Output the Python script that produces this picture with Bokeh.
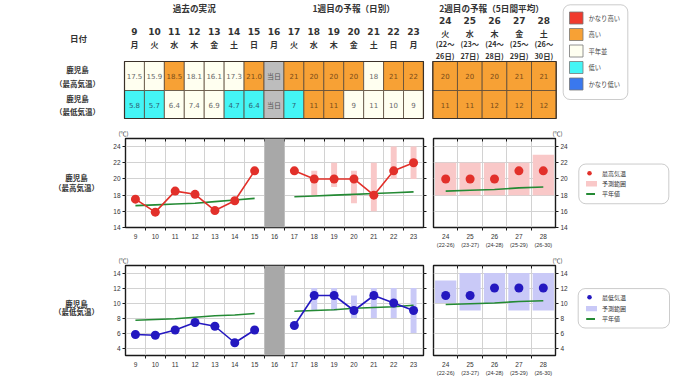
from bokeh.plotting import figure
from bokeh.layouts import column, row
from bokeh.models import Range1d, LinearAxis, FixedTicker, BoxAnnotation, Grid
from bokeh.core.properties import value
from bokeh.embed import file_html
from bokeh.resources import INLINE

JP = "Noto Sans CJK JP"
NUM = "DejaVu Sans"
AX = "Liberation Sans"

# ---------------- data ----------------
past_days = [9, 10, 11, 12, 13, 14, 15]
today = 16
fc_days = [17, 18, 19, 20, 21, 22, 23]
week1_weekdays = ["月", "火", "水", "木", "金", "土", "日", "月", "火", "水", "木", "金", "土", "日", "月"]
week2_days = [24, 25, 26, 27, 28]
week2_weekdays = ["火", "水", "木", "金", "土"]
week2_from = [22, 23, 24, 25, 26]
week2_to = [26, 27, 28, 29, 30]

max_obs = [17.5, 15.9, 18.5, 18.1, 16.1, 17.3, 21.0]
max_fc = [21, 20, 20, 20, 18, 21, 22]
max_fc_low = [None, 18, 19, 17, 16, 20, 20]
max_fc_high = [None, 21, 22, 21, 22, 24, 24]
max_normal_past = [16.7, 16.8, 16.9, 17.0, 17.2, 17.4, 17.6]
max_normal_fc = [17.8, 17.9, 18.0, 18.1, 18.2, 18.3, 18.4]
max_w2 = [20, 20, 20, 21, 21]
max_w2_low = [18, 18, 18, 18, 18]
max_w2_high = [22, 22, 22, 22, 23]
max_w2_normal = [18.5, 18.6, 18.7, 18.9, 19.0]

min_obs = [5.8, 5.7, 6.4, 7.4, 6.9, 4.7, 6.4]
min_fc = [7, 11, 11, 9, 11, 10, 9]
min_fc_low = [None, 9, 9, 8, 8, 8, 6]
min_fc_high = [None, 12, 12, 11, 12, 12, 12]
min_normal_past = [7.7, 7.8, 7.9, 8.1, 8.3, 8.4, 8.6]
min_normal_fc = [8.9, 9.0, 9.1, 9.3, 9.4, 9.5, 9.7]
min_w2 = [11, 11, 12, 12, 12]
min_w2_low = [10, 9, 10, 9, 9]
min_w2_high = [13, 14, 14, 14, 14]
min_w2_normal = [9.8, 9.9, 10.0, 10.2, 10.3]

# class of each table cell (vh かなり高い, h 高い, n 平年並, l 低い, vl かなり低い, t 当日)
max_class_w1 = ["n", "n", "h", "n", "n", "n", "h", "t", "h", "h", "h", "h", "n", "h", "h"]
min_class_w1 = ["l", "l", "n", "n", "n", "l", "l", "t", "l", "h", "h", "n", "n", "n", "n"]
max_class_w2 = ["h", "h", "h", "h", "h"]
min_class_w2 = ["h", "h", "h", "h", "h"]

class_keys = ["vh", "h", "n", "l", "vl"]
class_labels = ["かなり高い", "高い", "平年並", "低い", "かなり低い"]
today_label = "当日"
date_header = "日付"
section_titles = ["過去の実況", "1週目の予報（日別）", "2週目の予報（5日間平均）"]
row_names = [("鹿児島", "（最高気温）"), ("鹿児島", "（最低気温）")]
legend_max = ["最高気温", "予測範囲", "平年値"]
legend_min = ["最低気温", "予測範囲", "平年値"]
unit_label = "(℃)"

# ---------------- styles ----------------
FILL = {"vh": "#F03A2E", "h": "#F7A135", "n": "#FFFFF0", "l": "#44F5F5", "vl": "#3A78EE", "t": "#BDBDBD"}
INK = {"vh": "#5A1A10", "h": "#7A4C18", "n": "#6A6A6A", "l": "#2E6070", "vl": "#10204A", "t": "#555555"}
RED = "#E2302A"
BLUE = "#2418C0"
PINK = "#F9C8C8"
LAV = "#C9C9F7"
GREEN = "#248A34"
GRID = "#D2D2D2"
DARK = "#333333"

# ---------------- table ----------------
tab = figure(width=680, height=122, x_range=Range1d(0, 680), y_range=Range1d(122, 0), min_border=0,
             x_axis_location=None, y_axis_location=None, output_backend="svg", toolbar_location=None)
tab.outline_line_color = None
tab.grid.visible = False

W1_L, W1_W = 124.0, 19.93
W2_L, W2_W = 432.3, 24.68
ROWS = [(61.0, 90.0), (90.0, 118.0)]

w1_days = past_days + [today] + fc_days
n1, n2 = len(w1_days), len(week2_days)
w1_cx = [W1_L + (i + 0.5) * W1_W for i in range(n1)]
w2_cx = [W2_L + (i + 0.5) * W2_W for i in range(n2)]


def fmt_w1(obs, fc):
    return [f"{v:.1f}" for v in obs] + [today_label] + [f"{v:g}" for v in fc]


rows_w1 = [(max_class_w1, fmt_w1(max_obs, max_fc)), (min_class_w1, fmt_w1(min_obs, min_fc))]
rows_w2 = [(max_class_w2, [f"{v:g}" for v in max_w2]), (min_class_w2, [f"{v:g}" for v in min_w2])]


def txt(fig, x, y, text, font, size, color=DARK, style="normal", align="center"):
    fig.text(x=x, y=y, text=text, text_font=value(font), text_font_size=value(size),
             text_color=color, text_font_style=style, text_align=align, text_baseline="middle")


def draw_cells(L, W, n, rows):
    for (top, bot), (cls, labels) in zip(ROWS, rows):
        tab.quad(left=[L + i * W for i in range(n)], right=[L + (i + 1) * W for i in range(n)],
                 top=top, bottom=bot, fill_color=[FILL[c] for c in cls],
                 line_color="#5B4A3A", line_width=0.8)
        cx = [L + (i + 0.5) * W for i in range(n)]
        num = [i for i, c in enumerate(cls) if c != "t"]
        tday = [i for i, c in enumerate(cls) if c == "t"]
        yc = (top + bot) / 2
        txt(tab, [cx[i] for i in num], [yc] * len(num), [labels[i] for i in num], NUM, "7px",
            [INK[cls[i]] for i in num])
        if tday:
            txt(tab, [cx[i] for i in tday], [yc] * len(tday), [labels[i] for i in tday], JP, "7px",
                [INK["t"]] * len(tday))
    tab.quad(left=[L], right=[L + n * W], top=[ROWS[0][0]], bottom=[ROWS[1][1]], fill_color=None,
             line_color="#3A3028", line_width=1.2)


draw_cells(W1_L, W1_W, n1, rows_w1)
draw_cells(W2_L, W2_W, n2, rows_w2)

# headers
sec_x = [W1_L + 3.5 * W1_W, W1_L + 11.5 * W1_W, W2_L + 2.5 * W2_W - 3]
txt(tab, sec_x, [7.3] * 3, section_titles, JP, "8.6px", DARK, "bold")
txt(tab, w1_cx, [31] * n1, [str(d) for d in w1_days], NUM, "9px", DARK, "bold")
txt(tab, w1_cx, [44] * n1, week1_weekdays, JP, "8px", DARK, "bold")
txt(tab, w2_cx, [20.3] * n2, [str(d) for d in week2_days], NUM, "9px", DARK, "bold")
txt(tab, w2_cx, [33.3] * n2, week2_weekdays, JP, "8px", DARK, "bold")
txt(tab, w2_cx, [43.5] * n2, [f"({a}～" for a in week2_from], JP, "7.3px", DARK, "bold")
txt(tab, w2_cx, [55] * n2, [f"{b}日)" for b in week2_to], JP, "7.3px", DARK, "bold")
txt(tab, [78], [37.5], [date_header], JP, "8.5px", DARK, "bold")
txt(tab, [77, 77, 77, 77], [69, 82.5, 97.5, 111],
    [row_names[0][0], row_names[0][1], row_names[1][0], row_names[1][1]], JP, "7.5px", DARK, "bold")

# colour legend
tab.add_layout(BoxAnnotation(left=562.7, right=627.3, top=4.3, bottom=99, border_radius=7,
                             fill_color="white", fill_alpha=1, line_color="#555555", line_width=1,
                             level="underlay"))
leg_y = [17.5 + 16.5 * i for i in range(len(class_keys))]
tab.quad(left=569, right=582.5, top=[y - 6 for y in leg_y], bottom=[y + 6 for y in leg_y],
         fill_color=[FILL[k] for k in class_keys], line_color="#777777", line_width=0.8)
txt(tab, [588] * len(class_keys), leg_y, class_labels, JP, "6.3px", "#444444", "normal", "left")


# ---------------- charts ----------------
def frame_style(p, align, offset):
    p.outline_line_color = "#1A1A1A"
    p.outline_line_width = 1.4
    p.grid.visible = False
    p.title.text = unit_label
    p.title.text_font = JP
    p.title.text_font_size = "6px"
    p.title.text_font_style = "normal"
    p.title.text_color = DARK
    p.title.standoff = 2
    p.title.align = align
    p.title.offset = offset


def tick_axis(ticks, inward=False):
    return LinearAxis(ticker=FixedTicker(ticks=ticks), major_tick_in=3 if inward else 0,
                      major_tick_out=0 if inward else 3, minor_tick_in=0, minor_tick_out=0,
                      axis_line_color=None, major_tick_line_color="#1A1A1A",
                      major_label_text_font_size="0px", major_label_text_color=None,
                      major_label_standoff=0)


def label_axis(ticks, size, overrides=None, standoff=2):
    ax = LinearAxis(ticker=FixedTicker(ticks=ticks), major_tick_in=0, major_tick_out=0,
                    minor_tick_in=0, minor_tick_out=0, axis_line_color=None, major_tick_line_color=None,
                    major_label_text_font=AX, major_label_text_font_size=size,
                    major_label_text_color=DARK, major_label_standoff=standoff)
    if overrides:
        ax.major_label_overrides = overrides
    return ax


def y_axis(ticks, labels=True):
    ax = LinearAxis(ticker=FixedTicker(ticks=ticks), major_tick_in=0, major_tick_out=3,
                    minor_tick_in=0, minor_tick_out=0, axis_line_color=None,
                    major_tick_line_color="#1A1A1A",
                    major_label_text_font=AX, major_label_text_font_size="6.5px" if labels else "0px",
                    major_label_text_color=DARK if labels else None, major_label_standoff=2 if labels else 0)
    return ax


def grids(p, xb, yt):
    p.add_layout(Grid(dimension=0, ticker=FixedTicker(ticks=xb), grid_line_color=GRID, grid_line_width=1))
    p.add_layout(Grid(dimension=1, ticker=FixedTicker(ticks=yt), grid_line_color=GRID, grid_line_width=1))


def week1_panel(yr, yticks, obs, fc, lo, hi, n_past, n_fc, line_col, band_col, top_b, frame_h, bot_b):
    p = figure(frame_width=298, frame_height=frame_h,
               x_range=Range1d(w1_days[0] - 0.5, w1_days[-1] + 0.5), y_range=Range1d(*yr),
               min_border_left=17, min_border_right=5, min_border_top=top_b, min_border_bottom=bot_b,
               x_axis_location=None, y_axis_location=None, output_backend="svg", toolbar_location=None)
    frame_style(p, "left", -7)
    bounds = [d + 0.5 for d in w1_days[:-1]]
    grids(p, bounds, yticks)
    p.add_layout(y_axis(yticks, True), "left")
    p.add_layout(y_axis(yticks, False), "right")
    p.add_layout(tick_axis(bounds, inward=True), "above")
    p.add_layout(tick_axis(bounds), "below")
    p.add_layout(label_axis(w1_days, "6.5px", standoff=3), "below")
    bx = [d for d, l in zip(fc_days, lo) if l is not None]
    p.vbar(x=bx, width=0.3, bottom=[l for l in lo if l is not None], top=[h for h in hi if h is not None],
           fill_color=band_col, line_color=None)
    p.line(past_days, n_past, line_color=GREEN, line_width=1.6)
    p.line(fc_days, n_fc, line_color=GREEN, line_width=1.6)
    p.line(past_days, obs, line_color=line_col, line_width=1.6)
    p.line(fc_days, fc, line_color=line_col, line_width=1.6)
    p.scatter(past_days, obs, size=9, fill_color=line_col, line_color=None)
    p.scatter(fc_days, fc, size=9, fill_color=line_col, line_color=None)
    p.add_layout(BoxAnnotation(left=today - 0.5, right=today + 0.5, fill_color="#A8A8A8", fill_alpha=1,
                               line_color=None))
    return p


def week2_panel(yr, yticks, vals, lo, hi, normal, line_col, band_col, top_b, frame_h, bot_b):
    q = figure(frame_width=122, frame_height=frame_h,
               x_range=Range1d(week2_days[0] - 0.5, week2_days[-1] + 0.5), y_range=Range1d(*yr),
               min_border_left=5, min_border_right=20, min_border_top=top_b, min_border_bottom=bot_b,
               x_axis_location=None, y_axis_location=None, output_backend="svg", toolbar_location=None)
    frame_style(q, "right", -7)
    bounds = [d + 0.5 for d in week2_days[:-1]]
    grids(q, bounds, yticks)
    q.add_layout(y_axis(yticks, True), "right")
    q.add_layout(tick_axis(bounds, inward=True), "above")
    q.add_layout(tick_axis(bounds), "below")
    q.add_layout(label_axis(week2_days, "6.5px", standoff=3), "below")
    q.add_layout(label_axis(week2_days, "5.5px",
                            overrides={d: f"({a}-{b})" for d, a, b in zip(week2_days, week2_from, week2_to)},
                            standoff=0), "below")
    q.vbar(x=week2_days, width=0.87, bottom=lo, top=hi, fill_color=band_col, line_color=None)
    q.line(week2_days, normal, line_color=GREEN, line_width=1.6)
    q.scatter(week2_days, vals, size=9, fill_color=line_col, line_color=None)
    return q


def side_label(y0, y1, names, ys):
    f = figure(width=108, height=y1 - y0, x_range=Range1d(0, 108), y_range=Range1d(y1, y0), min_border=0,
               x_axis_location=None, y_axis_location=None, output_backend="svg", toolbar_location=None)
    f.outline_line_color = None
    f.grid.visible = False
    txt(f, [76, 76], ys, list(names), JP, "7.5px", DARK, "bold")
    return f


def legend_panel(y0, y1, box, ys, labels, dot_col, band_col):
    f = figure(width=105, height=y1 - y0, x_range=Range1d(575, 680), y_range=Range1d(y1, y0), min_border=0,
               x_axis_location=None, y_axis_location=None, output_backend="svg", toolbar_location=None)
    f.outline_line_color = None
    f.grid.visible = False
    f.add_layout(BoxAnnotation(left=box[0], right=box[1], top=box[2], bottom=box[3], border_radius=7,
                               fill_color="white", fill_alpha=1, line_color="#555555", line_width=1,
                               level="underlay"))
    f.scatter(x=[589], y=[ys[0]], size=4.5, fill_color=dot_col, line_color=None)
    f.quad(left=[585.5], right=[596.5], top=[ys[1] - 4], bottom=[ys[1] + 4], fill_color=band_col, line_color=None)
    f.line(x=[585.7, 594.5], y=[ys[2], ys[2]], line_color=GREEN, line_width=2)
    txt(f, [601.5] * 3, ys, labels, JP, "6px", DARK, "normal", "left")
    return f


# max row: page y 122..252 ; min row: page y 252..382
maxA = week1_panel((14, 25), [14, 16, 18, 20, 22, 24], max_obs, max_fc, max_fc_low, max_fc_high,
                   max_normal_past, max_normal_fc, RED, PINK, 16, 89, 25)
maxB = week2_panel((14, 25), [14, 16, 18, 20, 22, 24], max_w2, max_w2_low, max_w2_high, max_w2_normal,
                   RED, PINK, 16, 89, 25)
minA = week1_panel((3, 15), [4, 6, 8, 10, 12, 14], min_obs, min_fc, min_fc_low, min_fc_high,
                   min_normal_past, min_normal_fc, BLUE, LAV, 12, 90, 28)
minB = week2_panel((3, 15), [4, 6, 8, 10, 12, 14], min_w2, min_w2_low, min_w2_high, min_w2_normal,
                   BLUE, LAV, 12, 90, 28)

max_row = row(side_label(122, 252, row_names[0], [179, 194]), maxA, maxB,
              legend_panel(122, 252, (578.3, 668.3, 159.3, 217.3), [172.7, 188, 203], legend_max, RED, PINK))
min_row = row(side_label(252, 382, row_names[1], [307.5, 319]), minA, minB,
              legend_panel(252, 382, (577.7, 669, 285.7, 343.3), [298.3, 315, 330], legend_min, BLUE, LAV))

layout = column(tab, max_row, min_row)

with open("out.html", "w") as fh:
    fh.write(file_html(layout, INLINE))
